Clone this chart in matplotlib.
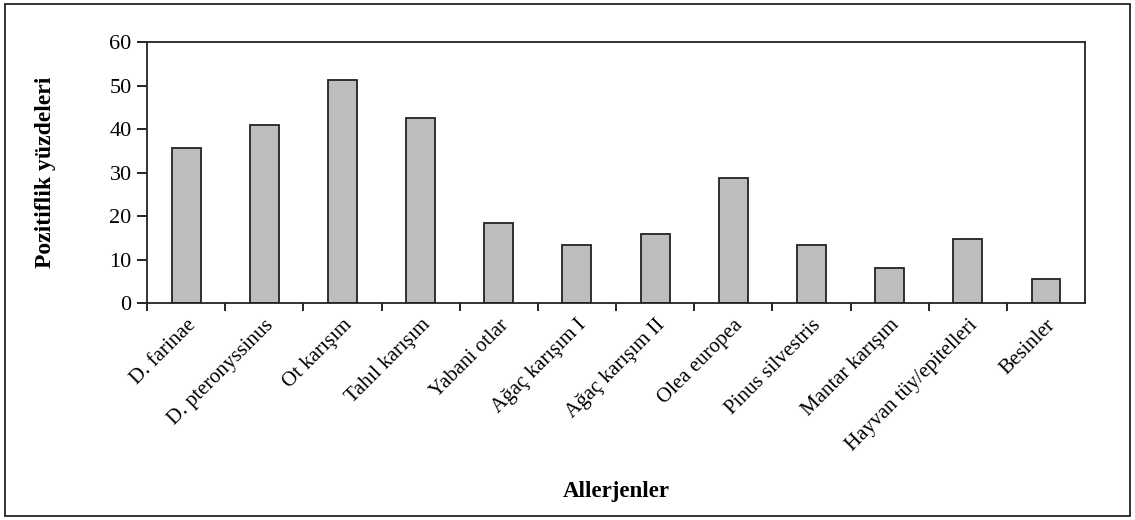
import matplotlib.pyplot as plt
from matplotlib.patches import Rectangle
import numpy as np

categories = ['D. farinae', 'D. pteronyssinus', 'Ot karışım', 'Tahıl karışım',
              'Yabani otlar', 'Ağaç karışım I', 'Ağaç karışım II', 'Olea europea',
              'Pinus silvestris', 'Mantar karışım', 'Hayvan tüy/epitelleri', 'Besinler']
values = [35.7, 40.9, 51.2, 42.6, 18.5, 13.4, 15.8, 28.7, 13.3, 8.1, 14.8, 5.5]
yticks = [0, 10, 20, 30, 40, 50, 60]

plt.rcParams['font.family'] = ['Liberation Serif', 'DejaVu Serif']

fig = plt.figure(figsize=(11.35, 5.2), dpi=100)
ax = fig.add_axes([0.1295, 0.417, 0.8265, 0.502])

x = np.arange(len(categories))
ax.bar(x, values, width=0.37, color='#bdbdbd', edgecolor='#222222', linewidth=1.3)

ax.set_xlim(-0.5, len(categories) - 0.5)
ax.set_ylim(0, 60)
ax.set_yticks(yticks)
ax.tick_params(axis='y', direction='out', length=7, width=1.2, labelsize=16, pad=4)

ax.set_xticks(x)
ax.set_xticklabels(categories, rotation=45, ha='right', rotation_mode='anchor', fontsize=15)
ax.tick_params(axis='x', which='major', length=0, pad=9)
ax.set_xticks(np.arange(len(categories)) - 0.5, minor=True)
ax.tick_params(axis='x', which='minor', direction='out', length=6, width=1.2)

for s in ax.spines.values():
    s.set_linewidth(1.3)
    s.set_color('#222222')

fig.text(0.04, 0.668, 'Pozitiflik yüzdeleri', rotation=90, ha='center', va='center',
         fontsize=17, fontweight='bold')
fig.text(0.543, 0.055, 'Allerjenler', ha='center', va='center',
         fontsize=16.5, fontweight='bold')

fig.patches.append(Rectangle((0.004, 0.007), 0.992, 0.985, transform=fig.transFigure,
                             fill=False, edgecolor='#222222', linewidth=1.3))

fig.savefig('out.png', dpi=100)
